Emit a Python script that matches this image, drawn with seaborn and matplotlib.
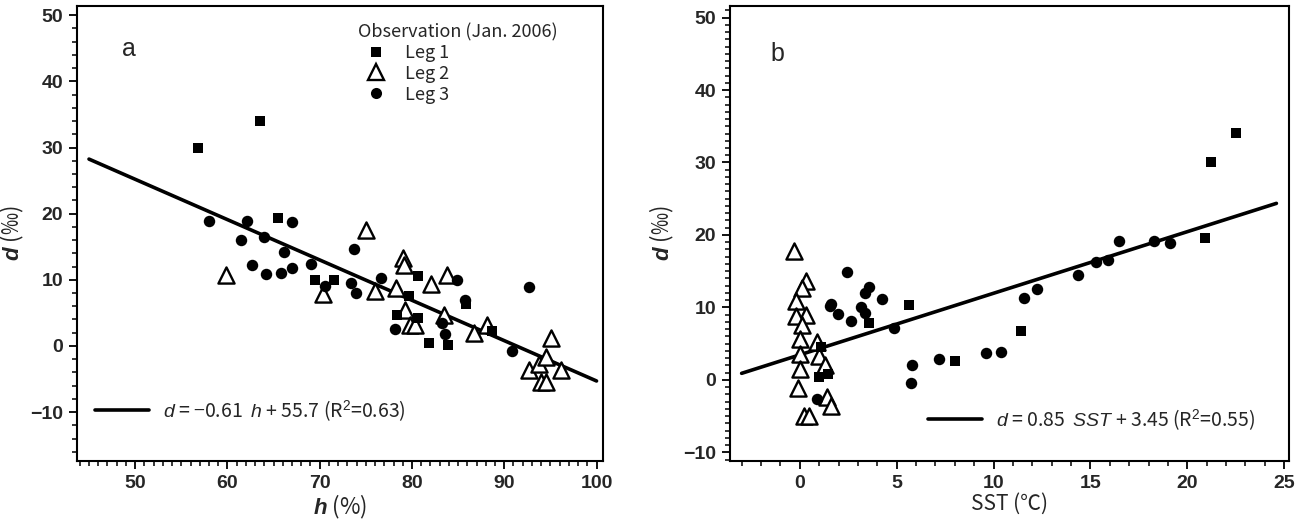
import numpy as np
import pandas as pd
import matplotlib
matplotlib.use('Agg')
import matplotlib.pyplot as plt
import seaborn as sns
from matplotlib.ticker import MultipleLocator
from matplotlib.lines import Line2D

sns.set_style('ticks')
plt.rcParams['font.family'] = ['Liberation Sans', 'DejaVu Sans']
plt.rcParams['mathtext.fontset'] = 'custom'
plt.rcParams['mathtext.rm'] = 'Liberation Sans'
plt.rcParams['mathtext.it'] = 'Liberation Sans:italic'
plt.rcParams['mathtext.bf'] = 'Liberation Sans:italic:bold'

# panel a: d vs relative humidity h
leg1_h = [56.8, 63.5, 65.5, 69.5, 71.5, 78.4, 79.7, 80.6, 80.7, 81.8, 83.9, 85.8, 88.7]
leg1_dh = [29.9, 34.0, 19.4, 10.0, 10.0, 4.7, 7.6, 10.5, 4.2, 0.5, 0.1, 6.4, 2.3]
leg2_h = [59.9, 70.4, 75.0, 76.0, 78.3, 79.0, 79.1, 79.2, 79.8, 80.3, 82.1, 83.5, 83.8,
          86.7, 88.1, 92.7, 93.8, 94.0, 94.5, 94.5, 95.1, 96.2]
leg2_dh = [10.7, 7.8, 17.6, 8.3, 8.8, 13.3, 12.3, 5.5, 3.2, 3.2, 9.3, 4.7, 10.8,
           2.0, 3.2, -3.6, -2.8, -5.4, -5.4, -1.6, 1.2, -3.7]
leg3_h = [58.0, 62.1, 67.0, 61.5, 64.0, 66.1, 62.7, 64.2, 65.8, 67.0, 69.1, 73.7, 70.6,
          73.4, 73.9, 76.6, 84.9, 85.7, 92.7, 78.2, 83.2, 83.6, 90.8]
leg3_dh = [18.9, 18.9, 18.8, 16.0, 16.4, 14.2, 12.3, 10.9, 11.1, 11.8, 12.4, 14.7, 9.0,
           9.5, 8.0, 10.3, 9.9, 6.9, 8.9, 2.6, 3.5, 1.8, -0.7]

# panel b: d vs SST
leg1_sst = [20.9, 21.2, 22.5, 5.64, 3.56, 1.08, 0.98, 1.46, 8.0, 11.4]
leg1_ds = [19.6, 30.1, 34.1, 10.4, 7.8, 4.5, 0.4, 0.8, 2.6, 6.7]
leg2_sst = [-0.3, 0.3, 0.1, -0.2, 0.3, -0.2, 0.1, 0.0, 0.9, 0.0, 1.0, 1.3, 0.0, -0.1,
            1.4, 1.6, 0.2, 0.5]
leg2_ds = [17.85, 13.6, 12.7, 10.9, 9.0, 8.8, 7.6, 5.6, 5.2, 3.6, 3.3, 2.1, 1.5, -1.1,
           -2.3, -3.6, -5.0, -5.0]
leg3_sst = [2.46, 3.56, 3.35, 4.24, 1.63, 1.58, 1.98, 3.14, 3.35, 2.66, 4.85, 5.81, 5.76,
            7.2, 9.6, 10.4, 11.56, 12.25, 14.35, 15.3, 15.9, 16.5, 18.3, 19.1, 0.9]
leg3_ds = [14.9, 12.8, 12.0, 11.1, 10.5, 10.2, 9.1, 10.0, 9.2, 8.1, 7.2, 2.05, -0.4,
           2.9, 3.7, 3.8, 11.3, 12.6, 14.5, 16.3, 16.6, 19.1, 19.1, 18.9, -2.7]

# regression fits
fit_h = (-0.61, 55.7)
fit_h_range = (45, 100)
fit_sst = (0.85, 3.45)
fit_sst_range = (-3.0, 24.6)

df_a = pd.concat([
    pd.DataFrame({'x': leg2_h, 'd': leg2_dh, 'leg': 'Leg 2'}),
    pd.DataFrame({'x': leg3_h, 'd': leg3_dh, 'leg': 'Leg 3'}),
    pd.DataFrame({'x': leg1_h, 'd': leg1_dh, 'leg': 'Leg 1'}),
])
df_b = pd.concat([
    pd.DataFrame({'x': leg2_sst, 'd': leg2_ds, 'leg': 'Leg 2'}),
    pd.DataFrame({'x': leg3_sst, 'd': leg3_ds, 'leg': 'Leg 3'}),
    pd.DataFrame({'x': leg1_sst, 'd': leg1_ds, 'leg': 'Leg 1'}),
])

styles = {
    'Leg 1': dict(marker='s', s=42, color='black', edgecolor='black', linewidth=0),
    'Leg 2': dict(marker='^', s=135, color='white', edgecolor='black', linewidth=1.7),
    'Leg 3': dict(marker='o', s=68, color='black', edgecolor='black', linewidth=0),
}

cjk = ['Noto Sans CJK JP', 'DejaVu Sans']

fig = plt.figure(figsize=(12.98, 5.31), dpi=100)
ax1 = fig.add_axes([77 / 1298, 70 / 531, 526 / 1298, 455 / 531])
ax2 = fig.add_axes([730 / 1298, 70 / 531, 559 / 1298, 455 / 531])


def draw(ax, df, fit, rng):
    for leg in ['Leg 2', 'Leg 3', 'Leg 1']:
        sns.scatterplot(data=df[df['leg'] == leg], x='x', y='d', ax=ax,
                        legend=False, zorder=3, **styles[leg])
    xs = np.array(rng)
    sns.lineplot(x=xs, y=fit[0] * xs + fit[1], ax=ax, color='black', lw=2.6, zorder=2)
    for sp in ax.spines.values():
        sp.set_linewidth(1.5)
        sp.set_color('black')
    ax.tick_params(which='major', direction='out', length=6, width=1.3,
                   labelsize=14, color='black', pad=4)
    ax.tick_params(which='minor', direction='out', length=3.5, width=1.1, color='black')


draw(ax1, df_a, fit_h, fit_h_range)
ax1.set_xlim(43.7, 100.7)
ax1.set_ylim(-17.4, 51.4)
ax1.xaxis.set_minor_locator(MultipleLocator(1))
ax1.yaxis.set_minor_locator(MultipleLocator(2))
ax1.set_xticks([50, 60, 70, 80, 90, 100])
ax1.set_yticks([-10, 0, 10, 20, 30, 40, 50])

draw(ax2, df_b, fit_sst, fit_sst_range)
ax2.set_xlim(-3.6, 25.25)
ax2.set_ylim(-11.2, 51.6)
ax2.xaxis.set_minor_locator(MultipleLocator(1))
ax2.yaxis.set_minor_locator(MultipleLocator(1))
ax2.set_xticks([0, 5, 10, 15, 20, 25])
ax2.set_yticks([-10, 0, 10, 20, 30, 40, 50])

ax1.set_xlabel(r'$\mathbf{h}$ (%)', fontsize=16, fontfamily=cjk, labelpad=1)
ax1.set_ylabel(r'$\mathbf{d}$ (‰)', fontsize=16, fontfamily=cjk)
ax2.set_xlabel('SST (℃)', fontsize=15, fontfamily=cjk, labelpad=1)
ax2.set_ylabel(r'$\mathbf{d}$ (‰)', fontsize=16, fontfamily=cjk)
ax1.yaxis.set_label_coords(-0.097, 0.5)
ax2.yaxis.set_label_coords(-0.097, 0.5)
for ax in (ax1, ax2):
    for lab in ax.get_xticklabels() + ax.get_yticklabels():
        lab.set_fontweight('bold')

ax1.text(0.085, 0.905, 'a', transform=ax1.transAxes, fontsize=18, va='center')
ax2.text(0.072, 0.895, 'b', transform=ax2.transAxes, fontsize=18, va='center')

# observation legend (panel a)
handles = []
for leg in ['Leg 1', 'Leg 2', 'Leg 3']:
    st = styles[leg]
    ms = 7.5 if leg == 'Leg 1' else (11 if leg == 'Leg 2' else 8)
    handles.append(Line2D([], [], ls='none', marker=st['marker'], markersize=ms,
                          markerfacecolor=st['color'], markeredgecolor='black',
                          markeredgewidth=1.7 if leg == 'Leg 2' else 0, label=leg))
obs = ax1.legend(handles=handles, title='Observation (Jan. 2006)', loc='upper left',
                 bbox_to_anchor=(0.51, 0.99), frameon=False, alignment='left',
                 prop={'family': cjk, 'size': 13}, title_fontproperties={'family': cjk, 'size': 13},
                 handletextpad=0.6, labelspacing=0.15, borderpad=0.2, handlelength=2.0)
ax1.add_artist(obs)

line_a = Line2D([], [], color='black', lw=2.6,
                label=r'$d$ = −0.61  $h$ + 55.7 (R$^2$=0.63)')
ax1.legend(handles=[line_a], loc='lower left', bbox_to_anchor=(0.0, 0.045), frameon=False,
           prop={'family': cjk, 'size': 14}, handlelength=2.8, handletextpad=0.7)
line_b = Line2D([], [], color='black', lw=2.6,
                label=r'$d$ = 0.85  $SST$ + 3.45 (R$^2$=0.55)')
ax2.legend(handles=[line_b], loc='lower right', bbox_to_anchor=(0.97, 0.025), frameon=False,
           prop={'family': cjk, 'size': 14}, handlelength=2.8, handletextpad=0.7)

fig.savefig('out.png', dpi=100)
